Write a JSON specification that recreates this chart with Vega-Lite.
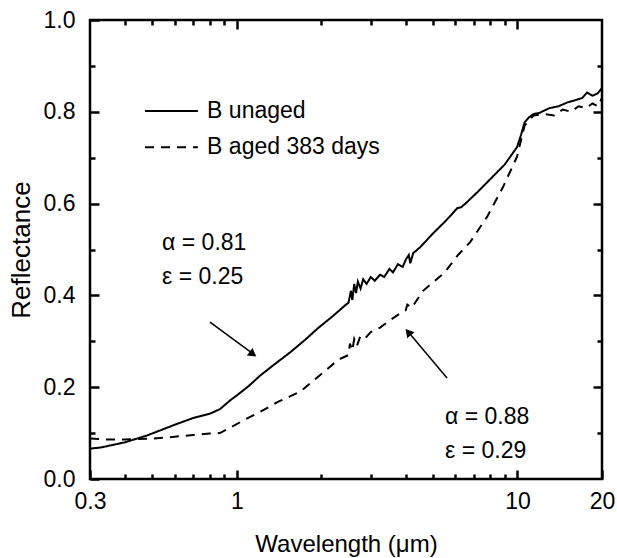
{
  "$schema": "https://vega.github.io/schema/vega-lite/v6.json",
  "width": 512,
  "height": 459,
  "autosize": {"type": "none"},
  "padding": {"left": 90, "top": 20, "right": 15, "bottom": 79},
  "background": "white",
  "config": {
    "font": "Liberation Sans",
    "view": {"stroke": "black", "strokeWidth": 2.5},
    "axis": {"grid": false, "domain": false, "labelFlush": false, "tickColor": "black", "tickWidth": 2.5, "labelColor": "black", "titleColor": "black", "labelFont": "Liberation Sans", "titleFont": "Liberation Sans", "labelFontSize": 23, "titleFontSize": 24, "titleFontWeight": "normal"}
  },
  "datasets": {
    "curves": [
      {"wl": 0.3, "r": 0.066, "s": "B unaged"},
      {"wl": 0.33, "r": 0.069, "s": "B unaged"},
      {"wl": 0.4, "r": 0.08, "s": "B unaged"},
      {"wl": 0.48, "r": 0.095, "s": "B unaged"},
      {"wl": 0.6, "r": 0.118, "s": "B unaged"},
      {"wl": 0.7, "r": 0.133, "s": "B unaged"},
      {"wl": 0.8, "r": 0.142, "s": "B unaged"},
      {"wl": 0.87, "r": 0.152, "s": "B unaged"},
      {"wl": 0.95, "r": 0.172, "s": "B unaged"},
      {"wl": 1.0, "r": 0.182, "s": "B unaged"},
      {"wl": 1.1, "r": 0.202, "s": "B unaged"},
      {"wl": 1.21, "r": 0.225, "s": "B unaged"},
      {"wl": 1.35, "r": 0.248, "s": "B unaged"},
      {"wl": 1.55, "r": 0.276, "s": "B unaged"},
      {"wl": 1.75, "r": 0.303, "s": "B unaged"},
      {"wl": 1.95, "r": 0.329, "s": "B unaged"},
      {"wl": 2.2, "r": 0.355, "s": "B unaged"},
      {"wl": 2.45, "r": 0.38, "s": "B unaged"},
      {"wl": 2.5, "r": 0.384, "s": "B unaged"},
      {"wl": 2.55, "r": 0.41, "s": "B unaged"},
      {"wl": 2.58, "r": 0.39, "s": "B unaged"},
      {"wl": 2.62, "r": 0.425, "s": "B unaged"},
      {"wl": 2.66, "r": 0.405, "s": "B unaged"},
      {"wl": 2.7, "r": 0.43, "s": "B unaged"},
      {"wl": 2.76, "r": 0.415, "s": "B unaged"},
      {"wl": 2.82, "r": 0.435, "s": "B unaged"},
      {"wl": 2.9, "r": 0.425, "s": "B unaged"},
      {"wl": 3.0, "r": 0.44, "s": "B unaged"},
      {"wl": 3.1, "r": 0.432, "s": "B unaged"},
      {"wl": 3.24, "r": 0.445, "s": "B unaged"},
      {"wl": 3.35, "r": 0.44, "s": "B unaged"},
      {"wl": 3.5, "r": 0.458, "s": "B unaged"},
      {"wl": 3.6, "r": 0.45, "s": "B unaged"},
      {"wl": 3.75, "r": 0.468, "s": "B unaged"},
      {"wl": 3.9, "r": 0.462, "s": "B unaged"},
      {"wl": 4.0, "r": 0.478, "s": "B unaged"},
      {"wl": 4.1, "r": 0.488, "s": "B unaged"},
      {"wl": 4.15, "r": 0.47, "s": "B unaged"},
      {"wl": 4.25, "r": 0.492, "s": "B unaged"},
      {"wl": 4.5, "r": 0.505, "s": "B unaged"},
      {"wl": 5.0, "r": 0.535, "s": "B unaged"},
      {"wl": 5.5, "r": 0.56, "s": "B unaged"},
      {"wl": 5.8, "r": 0.575, "s": "B unaged"},
      {"wl": 6.1, "r": 0.59, "s": "B unaged"},
      {"wl": 6.3, "r": 0.592, "s": "B unaged"},
      {"wl": 6.6, "r": 0.603, "s": "B unaged"},
      {"wl": 7.2, "r": 0.625, "s": "B unaged"},
      {"wl": 8.2, "r": 0.66, "s": "B unaged"},
      {"wl": 9.0, "r": 0.685, "s": "B unaged"},
      {"wl": 9.96, "r": 0.723, "s": "B unaged"},
      {"wl": 10.3, "r": 0.75, "s": "B unaged"},
      {"wl": 10.6, "r": 0.777, "s": "B unaged"},
      {"wl": 11.0, "r": 0.788, "s": "B unaged"},
      {"wl": 11.4, "r": 0.795, "s": "B unaged"},
      {"wl": 12.0, "r": 0.798, "s": "B unaged"},
      {"wl": 13.0, "r": 0.808, "s": "B unaged"},
      {"wl": 14.0, "r": 0.812, "s": "B unaged"},
      {"wl": 15.0, "r": 0.82, "s": "B unaged"},
      {"wl": 16.0, "r": 0.825, "s": "B unaged"},
      {"wl": 17.0, "r": 0.83, "s": "B unaged"},
      {"wl": 17.7, "r": 0.842, "s": "B unaged"},
      {"wl": 18.5, "r": 0.835, "s": "B unaged"},
      {"wl": 19.3, "r": 0.84, "s": "B unaged"},
      {"wl": 20.0, "r": 0.852, "s": "B unaged"},
      {"wl": 0.3, "r": 0.088, "s": "B aged 383 days"},
      {"wl": 0.35, "r": 0.086, "s": "B aged 383 days"},
      {"wl": 0.4, "r": 0.086, "s": "B aged 383 days"},
      {"wl": 0.5, "r": 0.088, "s": "B aged 383 days"},
      {"wl": 0.6, "r": 0.092, "s": "B aged 383 days"},
      {"wl": 0.7, "r": 0.096, "s": "B aged 383 days"},
      {"wl": 0.8, "r": 0.099, "s": "B aged 383 days"},
      {"wl": 0.87, "r": 0.1, "s": "B aged 383 days"},
      {"wl": 0.95, "r": 0.112, "s": "B aged 383 days"},
      {"wl": 1.05, "r": 0.127, "s": "B aged 383 days"},
      {"wl": 1.21, "r": 0.146, "s": "B aged 383 days"},
      {"wl": 1.4, "r": 0.168, "s": "B aged 383 days"},
      {"wl": 1.68, "r": 0.19, "s": "B aged 383 days"},
      {"wl": 2.03, "r": 0.232, "s": "B aged 383 days"},
      {"wl": 2.3, "r": 0.26, "s": "B aged 383 days"},
      {"wl": 2.5, "r": 0.27, "s": "B aged 383 days"},
      {"wl": 2.53, "r": 0.295, "s": "B aged 383 days"},
      {"wl": 2.58, "r": 0.28, "s": "B aged 383 days"},
      {"wl": 2.62, "r": 0.305, "s": "B aged 383 days"},
      {"wl": 2.68, "r": 0.29, "s": "B aged 383 days"},
      {"wl": 2.75, "r": 0.31, "s": "B aged 383 days"},
      {"wl": 2.85, "r": 0.305, "s": "B aged 383 days"},
      {"wl": 3.0, "r": 0.32, "s": "B aged 383 days"},
      {"wl": 3.24, "r": 0.33, "s": "B aged 383 days"},
      {"wl": 3.5, "r": 0.345, "s": "B aged 383 days"},
      {"wl": 3.8, "r": 0.36, "s": "B aged 383 days"},
      {"wl": 4.0, "r": 0.368, "s": "B aged 383 days"},
      {"wl": 4.05, "r": 0.38, "s": "B aged 383 days"},
      {"wl": 4.2, "r": 0.373, "s": "B aged 383 days"},
      {"wl": 4.61, "r": 0.41, "s": "B aged 383 days"},
      {"wl": 5.5, "r": 0.45, "s": "B aged 383 days"},
      {"wl": 6.14, "r": 0.488, "s": "B aged 383 days"},
      {"wl": 6.78, "r": 0.516, "s": "B aged 383 days"},
      {"wl": 7.79, "r": 0.571, "s": "B aged 383 days"},
      {"wl": 8.88, "r": 0.636, "s": "B aged 383 days"},
      {"wl": 9.96, "r": 0.702, "s": "B aged 383 days"},
      {"wl": 10.6, "r": 0.77, "s": "B aged 383 days"},
      {"wl": 11.4, "r": 0.792, "s": "B aged 383 days"},
      {"wl": 12.5, "r": 0.795, "s": "B aged 383 days"},
      {"wl": 13.5, "r": 0.792, "s": "B aged 383 days"},
      {"wl": 14.5, "r": 0.805, "s": "B aged 383 days"},
      {"wl": 15.5, "r": 0.8, "s": "B aged 383 days"},
      {"wl": 16.5, "r": 0.812, "s": "B aged 383 days"},
      {"wl": 17.5, "r": 0.808, "s": "B aged 383 days"},
      {"wl": 18.5, "r": 0.818, "s": "B aged 383 days"},
      {"wl": 19.3, "r": 0.812, "s": "B aged 383 days"},
      {"wl": 20.0, "r": 0.83, "s": "B aged 383 days"}
    ],
    "keys": [
      {"wl": 0.471, "wl2": 0.727, "r": 0.802, "tx": 0.784, "s": "B unaged"},
      {"wl": 0.471, "wl2": 0.727, "r": 0.723, "tx": 0.784, "s": "B aged 383 days"}
    ],
    "notes": [
      {"wl": 0.542, "r": 0.514, "label": "α = 0.81"},
      {"wl": 0.542, "r": 0.44, "label": "ε = 0.25"},
      {"wl": 5.52, "r": 0.135, "label": "α = 0.88"},
      {"wl": 5.52, "r": 0.061, "label": "ε = 0.29"}
    ],
    "arrows": [
      {"wl": 0.8025, "r": 0.342, "wl2": 1.16, "r2": 0.27},
      {"wl": 5.61, "r": 0.22, "wl2": 4.05, "r2": 0.323}
    ],
    "heads": [
      {"wl": 1.142, "r": 0.272, "ang": 127},
      {"wl": 4.08, "r": 0.32, "ang": 320}
    ]
  },
  "resolve": {"axis": {"x": "independent", "y": "independent"}},
  "layer": [
    {
      "data": {"name": "curves"},
      "mark": {"type": "line", "color": "black", "strokeWidth": 2},
      "encoding": {
        "x": {"field": "wl", "type": "quantitative", "scale": {"type": "log", "domain": [0.3, 20], "nice": false},
          "axis": {"orient": "bottom", "values": [0.3, 1, 10, 20], "format": "~g", "tickSize": -9, "labelPadding": 20, "title": "Wavelength (μm)", "titlePadding": 19}},
        "y": {"field": "r", "type": "quantitative", "scale": {"domain": [0, 1], "nice": false},
          "axis": {"orient": "left", "values": [0, 0.2, 0.4, 0.6, 0.8, 1.0], "format": ".1f", "tickSize": -9, "labelPadding": 24, "title": "Reflectance", "titleFontSize": 26, "titlePadding": 9}},
        "strokeDash": {"field": "s", "type": "nominal", "sort": null,
          "scale": {"domain": ["B unaged", "B aged 383 days"], "range": [[1, 0], [9, 7]]},
          "legend": null},
        "detail": {"field": "s"}
      }
    },
    {
      "data": {"name": "keys"},
      "layer": [
        {
          "mark": {"type": "rule", "color": "black", "strokeWidth": 2},
          "encoding": {
            "x": {"field": "wl", "type": "quantitative", "scale": {"type": "log", "domain": [0.3, 20], "nice": false}, "axis": null},
            "x2": {"field": "wl2"},
            "y": {"field": "r", "type": "quantitative", "scale": {"domain": [0, 1], "nice": false}, "axis": null},
            "strokeDash": {"field": "s", "type": "nominal", "legend": null}
          }
        },
        {
          "mark": {"type": "text", "align": "left", "baseline": "middle", "fontSize": 23, "color": "black", "font": "Liberation Sans"},
          "encoding": {
            "x": {"field": "tx", "type": "quantitative", "scale": {"type": "log", "domain": [0.3, 20], "nice": false}, "axis": null},
            "y": {"field": "r", "type": "quantitative", "scale": {"domain": [0, 1], "nice": false}, "axis": null},
            "text": {"field": "s"}
          }
        }
      ]
    },
    {
      "data": {"name": "notes"},
      "mark": {"type": "text", "align": "left", "baseline": "middle", "fontSize": 23, "color": "black", "font": "Liberation Sans"},
      "encoding": {
        "x": {"field": "wl", "type": "quantitative", "scale": {"type": "log", "domain": [0.3, 20], "nice": false},
          "axis": {"orient": "bottom", "values": [0.4, 0.5, 0.6, 0.7, 0.8, 0.9, 2, 3, 4, 5, 6, 7, 8, 9], "labels": false, "tickSize": -5, "title": null}},
        "y": {"field": "r", "type": "quantitative", "scale": {"domain": [0, 1], "nice": false},
          "axis": {"orient": "left", "values": [0.1, 0.3, 0.5, 0.7, 0.9], "labels": false, "tickSize": -5, "title": null}},
        "text": {"field": "label"}
      }
    },
    {
      "data": {"name": "arrows"},
      "mark": {"type": "rule", "color": "black", "strokeWidth": 1.5},
      "encoding": {
        "x": {"field": "wl", "type": "quantitative", "scale": {"type": "log", "domain": [0.3, 20], "nice": false},
          "axis": {"orient": "top", "values": [1, 10], "labels": false, "tickSize": -9, "title": null}},
        "y": {"field": "r", "type": "quantitative", "scale": {"domain": [0, 1], "nice": false},
          "axis": {"orient": "right", "values": [0.2, 0.4, 0.6, 0.8], "labels": false, "tickSize": -9, "title": null}},
        "x2": {"field": "wl2"},
        "y2": {"field": "r2"}
      }
    },
    {
      "data": {"name": "heads"},
      "mark": {"type": "point", "shape": "triangle-up", "filled": true, "color": "black", "size": 90, "opacity": 1},
      "encoding": {
        "x": {"field": "wl", "type": "quantitative", "scale": {"type": "log", "domain": [0.3, 20], "nice": false},
          "axis": {"orient": "top", "values": [0.4, 0.5, 0.6, 0.7, 0.8, 0.9, 2, 3, 4, 5, 6, 7, 8, 9], "labels": false, "tickSize": -5, "title": null}},
        "y": {"field": "r", "type": "quantitative", "scale": {"domain": [0, 1], "nice": false},
          "axis": {"orient": "right", "values": [0.1, 0.3, 0.5, 0.7, 0.9], "labels": false, "tickSize": -5, "title": null}},
        "angle": {"field": "ang", "type": "quantitative", "scale": null}
      }
    }
  ]
}
